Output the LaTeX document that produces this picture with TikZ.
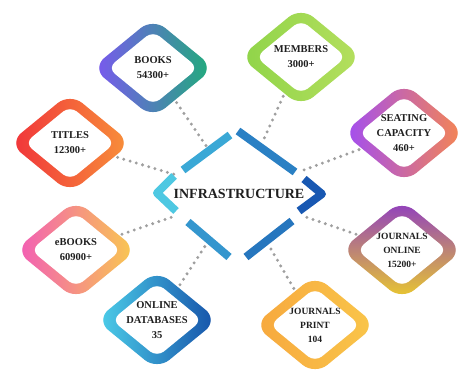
\documentclass[tikz,border=0pt]{standalone}
\usepackage{fontspec}
\setmainfont{Liberation Serif}
\usetikzlibrary{shapes.geometric}
\newcommand\myring[2]{%
  \begin{scope}[shift={(#1)}]
    \shade[#2, rounded corners=16pt] (-30.5,-25) -- (0,-50) -- (61,0) -- (0,50) -- (-61,0) -- cycle;
    \fill[white, rounded corners=9pt] (-22.6,-18.55) -- (0,-37.1) -- (45.2,0) -- (0,37.1) -- (-45.2,0) -- cycle;
  \end{scope}}
\begin{document}
\begin{tikzpicture}[x=1pt,y=-1pt,
  lbl/.style={shape=diamond, minimum width=122pt, minimum height=100pt, inner sep=0pt,
    align=center, font=\bfseries\fontsize{10.5}{15}\selectfont, text=black!88},
  small/.style={font=\bfseries\fontsize{9.5}{14}\selectfont},
  hub/.style={shape=diamond, minimum width=166pt, minimum height=134pt, inner sep=0pt,
    font=\bfseries\fontsize{14}{16}\selectfont, text=black!88},
  conn/.style={line width=3.3pt, dash pattern=on 0pt off 6.5pt, line cap=round,
    draw=gray!75, shorten >=3pt, shorten <=3pt},
  seg/.style={line width=8pt, line join=round}]
\useasboundingbox (0,0) rectangle (461,374);
\fill[white] (0,0) rectangle (461,374);

% nodes (text and anchors)
\node[hub] (infra) at (239,194) {INFRASTRUCTURE};
\node[lbl] (books) at (153,68) {BOOKS\\54300+};
\node[lbl] (titles) at (70,143) {TITLES\\12300+};
\node[lbl] (members) at (301,57) {MEMBERS\\3000+};
\node[lbl] (seating) at (404,133) {SEATING\\CAPACITY\\460+};
\node[lbl] (ebooks) at (76,250) {eBOOKS\\60900+};
\node[lbl] (databases) at (157,320) {ONLINE\\DATABASES\\35};
\node[lbl] (jonline) at (402,250) {};
\node[lbl] (jprint) at (315,325) {};

% connectors
\draw[conn] (books) -- (infra);
\draw[conn] (titles) -- (infra);
\draw[conn] (members) -- (infra);
\draw[conn] (seating) -- (infra);
\draw[conn] (ebooks) -- (infra);
\draw[conn] (databases) -- (infra);
\draw[conn] (jonline) -- (infra);
\draw[conn] (jprint) -- (infra);

% rings
\myring{books}{left color={rgb,255:red,124;green,86;blue,242}, middle color={rgb,255:red,62;green,112;blue,206}, right color={rgb,255:red,30;green,174;blue,120}}
\myring{titles}{left color={rgb,255:red,240;green,50;blue,58}, right color={rgb,255:red,248;green,146;blue,58}}
\myring{members}{left color={rgb,255:red,143;green,212;blue,73}, right color={rgb,255:red,181;green,223;blue,94}}
\myring{seating}{left color={rgb,255:red,160;green,76;blue,245}, right color={rgb,255:red,247;green,135;blue,78}}
\myring{ebooks}{left color={rgb,255:red,242;green,91;blue,184}, right color={rgb,255:red,249;green,203;blue,76}}
\myring{databases}{left color={rgb,255:red,77;green,208;blue,234}, right color={rgb,255:red,21;green,80;blue,168}}
\myring{jonline}{top color={rgb,255:red,142;green,60;blue,194}, bottom color={rgb,255:red,235;green,203;blue,43}}
\myring{jprint}{left color={rgb,255:red,247;green,168;blue,62}, right color={rgb,255:red,249;green,198;blue,74}}

% texts on top of the rings
\node[lbl] at (books) {BOOKS\\54300+};
\node[lbl] at (titles) {TITLES\\12300+};
\node[lbl] at (members) {MEMBERS\\3000+};
\node[lbl] at (seating) {SEATING\\CAPACITY\\460+};
\node[lbl] at (ebooks) {eBOOKS\\60900+};
\node[lbl] at (databases) {ONLINE\\DATABASES\\35};
\node[lbl, small] at (jonline) {JOURNALS\\ONLINE\\15200+};
\node[lbl, small] at (jprint) {JOURNALS\\PRINT\\104};

% central dashed diamond
\draw[seg, draw={rgb,255:red,78;green,200;blue,226}] (174,176) -- (157,193) -- (176,211);
\draw[seg, draw={rgb,255:red,58;green,168;blue,214}] (183,170) -- (230,135);
\draw[seg, draw={rgb,255:red,42;green,128;blue,196}] (238,131) -- (295,172);
\draw[seg, draw={rgb,255:red,24;green,88;blue,178}] (304,179) -- (322,194) -- (299,211);
\draw[seg, draw={rgb,255:red,38;green,118;blue,190}] (292,221) -- (246,257);
\draw[seg, draw={rgb,255:red,52;green,150;blue,206}] (188,222) -- (229,257);
\end{tikzpicture}
\end{document}
